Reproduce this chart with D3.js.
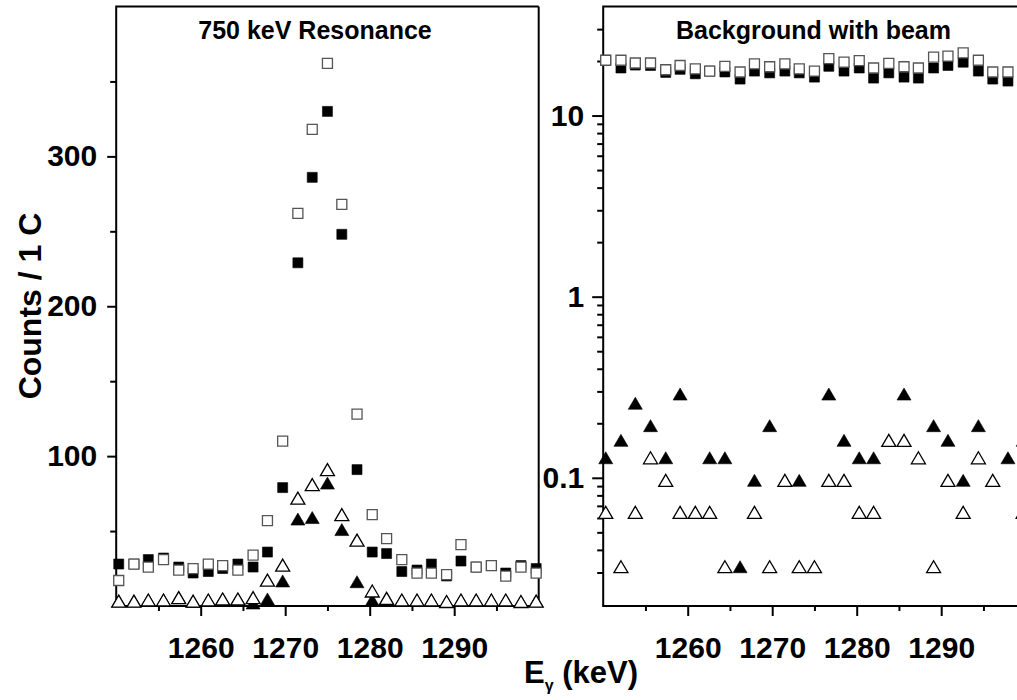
<!DOCTYPE html>
<html>
<head>
<meta charset="utf-8">
<script src="https://cdn.jsdelivr.net/npm/d3@7"></script>
<style>
  body { margin: 0; background: #fff; }
  text { font-family: "Liberation Sans", Arial, sans-serif; font-weight: bold; fill: #000; }
</style>
</head>
<body>
<div id="chart"></div>
<script>
// gamma energy of each channel (keV)
var energy = [1250.3, 1252.1, 1253.8, 1255.6, 1257.4, 1259.1, 1260.9, 1262.6, 1264.4, 1266.2,
  1267.9, 1269.7, 1271.5, 1273.2, 1275.0, 1276.7, 1278.5, 1280.3, 1282.0, 1283.8,
  1285.6, 1287.3, 1289.1, 1290.8, 1292.6, 1294.4, 1296.1, 1297.9, 1299.7];

// 750 keV resonance (counts / 1 C)
var resOpenSq = [17, 28, 26, 31, 24, 25, 28, 27, 24, 34, 57, 110, 262, 318, 362, 268, 128, 61, 45, 31,
  22, 22, 21, 41, 26, 27, 20, 26, 22];
var resFillSq = [28, 28, 31, 32, 26, 22, 23, 25, 28, 26, 36, 79, 229, 286, 330, 248, 91, 36, 35, 23,
  24, 28, 20, 30, 26, 27, 22, 27, 25];
var resOpenTri = [3.3, 3.3, 4, 4, 5.6, 3.3, 4, 4.7, 4.7, 5.6, 17.3, 27.3, 72, 81, 91, 61, 44, 10, 5.1, 4,
  4, 4, 3, 4, 4, 4, 4, 3, 3.3];
var resFillTri = [3.3, 3.3, 4, 4, 5.6, 3, 4, 4.7, 4.7, 2, 4.7, 16.7, 58, 59, 82, 51, 16.2, 4, 5.1, 4,
  4, 4, 3, 4, 4, 4, 4, 3, 3.3];

// background with beam (0 = nothing recorded)
var bgOpenSq = [20.2, 20.2, 19.5, 19.5, 17.9, 18.9, 18.1, 17.6, 18.7, 17.4, 19.3, 18.6, 19.3, 18.1, 17.6,
  20.6, 19.7, 20.1, 18.3, 19.4, 18.6, 18.3, 21.0, 21.3, 22.2, 20.2, 17.4, 17.4, 17.0];
var bgFillSq = [20.2, 18.3, 19.0, 18.9, 17.3, 18.0, 17.0, 17.6, 17.4, 15.9, 17.6, 17.2, 17.6, 17.2, 16.3,
  18.7, 17.6, 18.3, 16.1, 17.2, 16.3, 16.1, 18.3, 18.9, 19.7, 17.6, 15.9, 15.5, 15.5];
var bgOpenTri = [0.0645, 0.0323, 0.0645, 0.129, 0.0968, 0.0645, 0.0645, 0.0645, 0.0323, 0, 0.0645, 0.0323,
  0.0968, 0.0323, 0.0323, 0.0968, 0.0968, 0.0645, 0.0645, 0.161, 0.161, 0.129, 0.0323, 0.0968, 0.0645,
  0.129, 0.0968, 0, 0.0645];
var bgFillTri = [0.129, 0.161, 0.258, 0.194, 0.129, 0.290, 0, 0.129, 0.129, 0.0323, 0.0968, 0.194, 0,
  0.0968, 0, 0.290, 0.161, 0.129, 0.129, 0, 0.290, 0, 0.194, 0.161, 0.0968, 0.194, 0, 0.129, 0.161];

var xTicks = [1260, 1270, 1280, 1290];
var xMinor = [1255, 1265, 1275, 1285, 1295];
var linTicks = [100, 200, 300];
var linMinor = [50, 150, 250, 350];
var logTicks = [0.1, 1, 10];
var logMinor = [0.03, 0.04, 0.05, 0.06, 0.07, 0.08, 0.09, 0.2, 0.3, 0.4, 0.5, 0.6, 0.7, 0.8, 0.9,
  2, 3, 4, 5, 6, 7, 8, 9, 20, 30];

var svgWidth = 1017;
var svgHeight = 700;
var plotTop = 6.5, plotBottom = 606;
var panelW = 422.5;

var svg = d3.select("#chart")
  .append("svg")
  .attr("width", svgWidth)
  .attr("height", svgHeight);

var triPath = "M0,-6L7,6L-7,6Z";

function drawPanel(left, yScale, yTicks, yMinor, yFmt, series, title, titleX) {
  var g = svg.append("g");
  var x = d3.scaleLinear().domain([1250, 1300]).range([left, left + panelW]);

  // minor ticks first, then major
  g.append("g").attr("transform", `translate(0,${plotBottom})`)
    .call(d3.axisBottom(x).tickValues(xMinor).tickSize(5).tickFormat(""));
  g.append("g").attr("transform", `translate(0,${plotBottom})`)
    .call(d3.axisBottom(x).tickValues(xTicks).tickSize(10).tickPadding(21).tickFormat(d3.format("d")));
  g.append("g").attr("transform", `translate(${left},0)`)
    .call(d3.axisLeft(yScale).tickValues(yMinor).tickSize(6).tickFormat(""));
  g.append("g").attr("transform", `translate(${left},0)`)
    .call(d3.axisLeft(yScale).tickValues(yTicks).tickSize(yFmt ? 11 : 9).tickPadding(yFmt ? 8 : 10)
      .tickFormat(yFmt || d3.format("d")));

  g.selectAll(".domain").remove();
  g.selectAll(".tick line").attr("stroke", "#000").attr("stroke-width", 2);
  g.selectAll(".tick text").attr("font-size", 30).attr("font-family", null);

  // frame (the right panel's right side lies past the page edge)
  var frame = d3.path();
  frame.moveTo(left + panelW, plotTop);
  frame.lineTo(left, plotTop);
  frame.lineTo(left, plotBottom);
  frame.lineTo(left + panelW, plotBottom);
  frame.lineTo(left + panelW, plotTop);
  g.append("path").attr("d", frame.toString())
    .attr("fill", "none").attr("stroke", "#000").attr("stroke-width", 2);

  series.forEach(function(s) {
    var pts = energy.map((e, i) => ({ e: e, v: s.values[i] })).filter(d => d.v > 0);
    var sel = g.append("g").selectAll("path").data(pts).enter().append("path")
      .attr("transform", d => `translate(${x(d.e)},${yScale(d.v)})`);
    if (s.shape === "square") {
      sel.attr("d", "M-5,-5H5V5H-5Z");
    } else {
      sel.attr("d", triPath);
    }
    if (s.filled) {
      sel.attr("fill", "#000").attr("stroke", "#000").attr("stroke-width", 0.6);
    } else {
      sel.attr("fill", "#fff")
        .attr("stroke", s.shape === "square" ? "#555" : "#000")
        .attr("stroke-width", 1.3);
    }
  });

  g.append("text")
    .attr("x", titleX)
    .attr("y", 38.5)
    .attr("text-anchor", "middle")
    .attr("font-size", 25)
    .text(title);
}

var yLin = d3.scaleLinear().domain([0, 400]).range([plotBottom, plotTop]);
var yLog = d3.scaleLog().domain([0.0196, 40]).range([plotBottom, plotTop]);

drawPanel(116.2, yLin, linTicks, linMinor, null, [
  { values: resFillTri, shape: "tri", filled: true },
  { values: resOpenTri, shape: "tri", filled: false },
  { values: resFillSq, shape: "square", filled: true },
  { values: resOpenSq, shape: "square", filled: false }
], "750 keV Resonance", 315);

drawPanel(603.2, yLog, logTicks, logMinor, d => d3.format("~g")(d), [
  { values: bgFillTri, shape: "tri", filled: true },
  { values: bgOpenTri, shape: "tri", filled: false },
  { values: bgFillSq, shape: "square", filled: true },
  { values: bgOpenSq, shape: "square", filled: false }
], "Background with beam", 813.5);

// axis titles
svg.append("text")
  .attr("transform", "translate(41,306) rotate(-90)")
  .attr("text-anchor", "middle")
  .attr("font-size", 32)
  .text("Counts / 1 C");

var xl = svg.append("text")
  .attr("x", 524)
  .attr("y", 683)
  .attr("font-size", 31);
xl.append("tspan").text("E");
xl.append("tspan").attr("font-size", 16).attr("dy", 8).text("\u03b3");
xl.append("tspan").attr("dy", -8).text(" (keV)");
</script>
</body>
</html>
